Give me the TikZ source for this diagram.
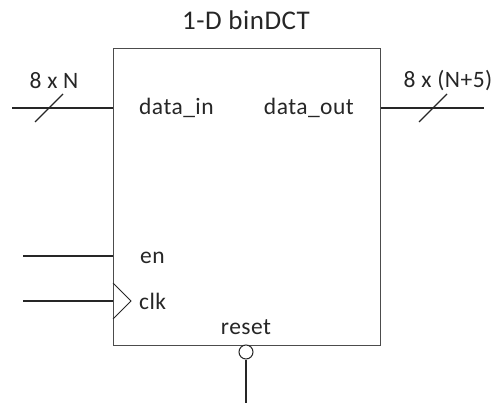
\documentclass[tikz,border=0pt]{standalone}
\usepackage{fontspec}
\setmainfont{Carlito}[LetterSpace=2]
\begin{document}
\begin{tikzpicture}[x=1pt,y=-1pt,
  wire/.style={line width=1.3pt,draw=black!85},
  lbl/.style={font=\fontsize{23.5}{25}\selectfont,text=black!85,inner sep=0pt},
  ttl/.style={font=\fontsize{27}{29}\selectfont,text=black!85,inner sep=0pt}]
\useasboundingbox (0,0) rectangle (495,403);
\node[draw=black!70,line width=1pt,minimum width=267pt,minimum height=296pt,inner sep=0pt] (box) at (246.5,197) {};
\node[ttl] (title) at (246,20) {1-D binDCT};
% data in
\coordinate (din) at (12,108);
\draw[wire] (din) -- (box.west |- din);
\coordinate (s1a) at (35,122);
\coordinate (s1b) at (63,94);
\draw[wire] (s1a) -- (s1b);
\node[lbl] (nin) at (54,81) {8 x N};
\node[lbl,anchor=west] (ldin) at (139,108) {data\_in};
% data out
\coordinate (dout) at (484,108);
\draw[wire] (box.east |- dout) -- (dout);
\coordinate (s2a) at (419,122);
\coordinate (s2b) at (447,94);
\draw[wire] (s2a) -- (s2b);
\node[lbl] (nout) at (448,81) {8 x (N+5)};
\node[lbl,anchor=east] (ldout) at (354,108) {data\_out};
% en
\coordinate (en) at (23,256);
\draw[wire] (en) -- (box.west |- en);
\node[lbl,anchor=west] (len) at (140,258) {en};
% clk
\coordinate (clk) at (23,301);
\draw[wire] (clk) -- (box.west |- clk);
\coordinate (t1) at (113,283);
\coordinate (t2) at (131,301);
\coordinate (t3) at (113,319);
\draw[line width=1pt,draw=black!85] (t1) -- (t2) -- (t3);
\node[lbl,anchor=west] (lclk) at (139,301) {clk};
% reset
\node[lbl] (lrst) at (246,327) {reset};
\node[circle,draw=black!85,line width=1pt,minimum size=14pt,inner sep=0pt,fill=white] (bub) at (246,352) {};
\coordinate (rend) at (246,403);
\draw[wire] (bub.south) -- (rend);
\end{tikzpicture}
\end{document}
